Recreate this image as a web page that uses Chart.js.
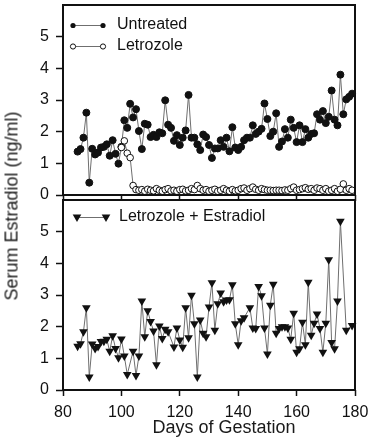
<!DOCTYPE html>
<html>
<head>
<meta charset="utf-8">
<script src="https://cdn.jsdelivr.net/npm/chart.js@4.4.0/dist/chart.umd.min.js"></script>
<style>
  body { margin: 0; background: #fff; }
  #wrap { position: relative; width: 368px; height: 440px; font-family: "Liberation Sans", Arial, Helvetica, sans-serif; color: #1a1a1a; }
  canvas { position: absolute; left: 0; }
  #topChart { top: 0; z-index: 2; }
  #bottomChart { top: 195px; z-index: 1; }
  .ytitle { position: absolute; left: 12px; top: 206px; transform: translate(-50%, -50%) rotate(-90deg); font-size: 18px; white-space: nowrap; z-index: 3; }
  .xtitle { position: absolute; left: 224px; top: 427px; transform: translate(-50%, -50%); font-size: 18px; white-space: nowrap; z-index: 3; }
</style>
</head>
<body>
<div id="wrap">
  <canvas id="bottomChart" width="368" height="245"></canvas>
  <canvas id="topChart" width="368" height="210"></canvas>
  <div class="ytitle">Serum Estradiol (ng/ml)</div>
  <div class="xtitle">Days of Gestation</div>
</div>
<script>
// days of gestation and serum estradiol (ng/ml)
const untreatedDays = [
  85, 86, 87, 88, 89, 90, 91, 92, 93, 94,
  95, 96, 97, 98, 99, 100, 101, 102, 103, 104,
  105, 106, 107, 108, 109, 110, 111, 112, 113, 114,
  115, 116, 117, 118, 119, 120, 121, 122, 123, 124,
  125, 126, 127, 128, 129, 130, 131, 132, 133, 134,
  135, 136, 137, 138, 139, 140, 141, 142, 143, 144,
  145, 146, 147, 148, 149, 150, 151, 152, 153, 154,
  155, 156, 157, 158, 159, 160, 161, 162, 163, 164,
  165, 166, 167, 168, 169, 170, 171, 172, 173, 174,
  175, 176, 177, 178, 179
];
const untreatedValues = [
  1.37, 1.45, 1.81, 2.6, 0.39, 1.46, 1.28, 1.34, 1.5, 1.52,
  1.6, 1.24, 1.73, 1.3, 0.99, 1.52, 2.36, 2.12, 2.88, 2.45,
  2.71, 2.02, 1.45, 2.25, 2.22, 1.83, 1.9, 1.83, 1.98, 1.95,
  2.99, 2.22, 2.12, 1.71, 1.89, 1.58, 1.81, 2.04, 3.16, 1.81,
  1.81, 1.6, 1.42, 1.91, 1.83, 1.58, 1.17, 1.47, 1.47, 1.73,
  1.52, 1.81, 1.38, 2.14, 1.5, 1.42, 1.52, 1.73, 1.81, 1.81,
  2.2, 1.93, 2.0, 2.09, 2.89, 2.4, 1.86, 2.0, 2.58, 1.52,
  1.69, 2.08, 1.81, 2.38, 2.12, 1.67, 2.2, 1.67, 2.08, 1.81,
  1.93, 1.95, 2.55, 2.38, 2.65, 2.27, 2.47, 3.3, 2.38, 2.2,
  3.8, 2.55, 3.02, 3.1, 3.2
];

const letrozoleDays = [
  100, 101, 102, 103, 104, 105, 106, 107, 108, 109,
  110, 111, 112, 113, 114, 115, 116, 117, 118, 119,
  120, 121, 122, 123, 124, 125, 126, 127, 128, 129,
  130, 131, 132, 133, 134, 135, 136, 137, 138, 139,
  140, 141, 142, 143, 144, 145, 146, 147, 148, 149,
  150, 151, 152, 153, 154, 155, 156, 157, 158, 159,
  160, 161, 162, 163, 164, 165, 166, 167, 168, 169,
  170, 171, 172, 173, 174, 175, 176, 177, 178, 179
];
const letrozoleValues = [
  1.5, 1.71, 1.32, 1.18, 0.3, 0.17, 0.15, 0.17, 0.12, 0.18,
  0.15, 0.13, 0.2, 0.15, 0.12, 0.17, 0.2, 0.13, 0.15, 0.12,
  0.17, 0.18, 0.13, 0.15, 0.2, 0.17, 0.3, 0.2, 0.15, 0.17,
  0.12, 0.15, 0.18, 0.12, 0.15, 0.2, 0.15, 0.12, 0.17, 0.13,
  0.15, 0.2, 0.22, 0.15, 0.2, 0.25, 0.18, 0.15, 0.2, 0.17,
  0.15, 0.15, 0.14, 0.15, 0.15, 0.14, 0.16, 0.15, 0.2, 0.25,
  0.15, 0.17, 0.2, 0.23, 0.18, 0.2, 0.15, 0.22, 0.2, 0.15,
  0.2, 0.12, 0.15, 0.2, 0.12, 0.18, 0.35, 0.15, 0.2, 0.15
];

const comboDays = [
  85, 86, 87, 88, 89, 90, 91, 92, 93, 94,
  95, 96, 97, 98, 99, 100, 101, 102, 104, 105,
  106, 107, 108, 109, 110, 111, 112, 113, 114, 115,
  116, 118, 119, 120, 121, 122, 123, 124, 125, 126,
  127, 128, 129, 130, 131, 132, 133, 134, 135, 136,
  137, 138, 139, 140, 141, 142, 144, 145, 146, 147,
  148, 149, 150, 151, 152, 153, 154, 155, 156, 157,
  158, 159, 160, 161, 162, 163, 164, 165, 166, 167,
  168, 169, 170, 171, 172, 173, 174, 175, 177, 179
];
const comboValues = [
  1.38, 1.46, 1.84, 2.6, 0.41, 1.45, 1.31, 1.37, 1.53, 1.54,
  1.6, 1.22, 1.71, 1.31, 1.02, 1.61, 1.07, 0.49, 1.22, 0.46,
  1.07, 2.81, 1.68, 2.5, 2.16, 1.86, 0.8, 2.02, 1.63, 1.92,
  1.84, 1.36, 1.96, 1.58, 1.35, 2.6, 1.65, 2.99, 2.09, 0.41,
  2.21, 1.79, 1.68, 2.62, 3.39, 1.89, 2.72, 3.06, 2.79, 2.84,
  2.85, 3.32, 2.09, 1.43, 2.19, 2.28, 2.6, 1.96, 1.94, 3.27,
  2.98, 1.96, 1.14, 2.68, 3.34, 1.79, 1.94, 2.0, 2.0, 1.96,
  1.6, 2.42, 1.19, 1.3, 2.14, 1.43, 3.4, 1.73, 2.11, 2.4,
  1.94, 1.19, 2.11, 4.11, 1.5, 1.3, 2.81, 5.33, 1.89, 2.04
];

const xTicks = [80, 100, 120, 140, 160, 180];
const yTicks = [0, 1, 2, 3, 4, 5];

const ink = '#111';
const lineGray = '#6f6f6f';
const fontFamily = '"Liberation Sans", Arial, Helvetica, sans-serif';

Chart.defaults.font.family = fontFamily;
Chart.defaults.color = ink;

function toPoints(days, values) {
  return days.map((d, i) => ({ x: d, y: values[i] }));
}

// little "marker - line - marker" picture used as legend symbol
function legendIcon(width, x1, x2, marker) {
  const c = document.createElement('canvas');
  c.width = width;
  c.height = 14;
  const g = c.getContext('2d');
  const cy = 7;
  g.strokeStyle = lineGray;
  g.lineWidth = 1;
  g.beginPath();
  g.moveTo(x1, cy + 0.5);
  g.lineTo(x2, cy + 0.5);
  g.stroke();
  [x1, x2].forEach(x => marker(g, x, cy));
  return c;
}

function filledDot(g, x, y) {
  g.fillStyle = ink;
  g.beginPath();
  g.arc(x, y + 0.5, 2.6, 0, Math.PI * 2);
  g.fill();
}

function openDot(g, x, y) {
  g.fillStyle = '#fff';
  g.strokeStyle = ink;
  g.lineWidth = 1;
  g.beginPath();
  g.arc(x, y + 0.5, 2.6, 0, Math.PI * 2);
  g.fill();
  g.stroke();
}

function downTriangle(g, x, y) {
  const r = 5;
  g.fillStyle = ink;
  g.beginPath();
  g.moveTo(x - r * 0.866, y - r / 2);
  g.lineTo(x + r * 0.866, y - r / 2);
  g.lineTo(x, y + r);
  g.closePath();
  g.fill();
}

const frame = {
  id: 'frame',
  afterDraw(chart) {
    const { ctx, chartArea: a } = chart;
    ctx.save();
    ctx.strokeStyle = ink;
    ctx.lineWidth = 2;
    ctx.strokeRect(a.left, a.top, a.right - a.left, a.bottom - a.top);
    ctx.restore();
  }
};

function xScale(showLabels) {
  return {
    type: 'linear',
    min: 80,
    max: 180,
    afterBuildTicks(s) { s.ticks = xTicks.map(v => ({ value: v })); },
    ticks: { display: showLabels, padding: 7, color: ink, font: { size: 16 } },
    grid: { drawOnChartArea: false, tickLength: 6, tickColor: ink, tickWidth: 1.5 },
    border: { display: false },
    afterFit(s) {
      s.height = showLabels ? 50 : 15;
      s.paddingLeft = 0;
      s.paddingRight = 0;
    }
  };
}

function yScale() {
  return {
    type: 'linear',
    min: 0,
    max: 6,
    afterBuildTicks(s) { s.ticks = yTicks.map(v => ({ value: v })); },
    ticks: { padding: 7, color: ink, font: { size: 16 } },
    grid: { drawOnChartArea: false, tickLength: 7, tickColor: ink, tickWidth: 1.5 },
    border: { display: false },
    afterFit(s) {
      s.width = 63;
      s.paddingTop = 0;
      s.paddingBottom = 0;
    }
  };
}

function legendOpts(icons, boxW, titleGap) {
  return {
    position: 'chartArea',
    align: 'start',
    title: { display: true, text: '', font: { size: 1, lineHeight: 1 }, padding: { top: 0, bottom: titleGap } },
    labels: {
      usePointStyle: true,
      pointStyleWidth: boxW,
      padding: 5,
      color: ink,
      font: { size: 16 },
      generateLabels(chart) {
        return chart.data.datasets.map((ds, i) => ({
          text: ds.label,
          pointStyle: icons[i],
          datasetIndex: i,
          fontColor: ink,
          lineWidth: 0,
          hidden: false
        }));
      }
    }
  };
}

new Chart(document.getElementById('topChart'), {
  type: 'line',
  data: {
    datasets: [
      {
        label: 'Untreated',
        data: toPoints(untreatedDays, untreatedValues),
        borderColor: lineGray,
        borderWidth: 1,
        pointStyle: 'circle',
        pointRadius: 3.5,
        pointBackgroundColor: ink,
        pointBorderColor: ink,
        pointBorderWidth: 1,
        clip: false,
        order: 2
      },
      {
        label: 'Letrozole',
        data: toPoints(letrozoleDays, letrozoleValues),
        borderColor: lineGray,
        borderWidth: 1,
        pointStyle: 'circle',
        pointRadius: 3.3,
        pointBackgroundColor: '#fff',
        pointBorderColor: ink,
        pointBorderWidth: 1,
        clip: false,
        order: 1
      }
    ]
  },
  options: {
    responsive: false,
    animation: false,
    devicePixelRatio: 1,
    layout: { padding: { left: 0, right: 13, top: 1, bottom: 0 } },
    scales: { x: xScale(false), y: yScale() },
    plugins: {
      legend: legendOpts([
        legendIcon(41, 5, 35, filledDot),
        legendIcon(41, 5, 35, openDot)
      ], 41, 11),
      tooltip: { enabled: false }
    }
  },
  plugins: [frame]
});

new Chart(document.getElementById('bottomChart'), {
  type: 'line',
  data: {
    datasets: [
      {
        label: 'Letrozole + Estradiol',
        data: toPoints(comboDays, comboValues),
        borderColor: lineGray,
        borderWidth: 1,
        pointStyle: 'triangle',
        rotation: 180,
        pointRadius: 5,
        pointBackgroundColor: ink,
        pointBorderColor: ink,
        pointBorderWidth: 0,
        clip: false
      }
    ]
  },
  options: {
    responsive: false,
    animation: false,
    devicePixelRatio: 1,
    layout: { padding: { left: 0, right: 13, top: 0, bottom: 0 } },
    scales: { x: xScale(true), y: yScale() },
    plugins: {
      legend: legendOpts([legendIcon(43, 9, 38, downTriangle)], 43, 8),
      tooltip: { enabled: false }
    }
  },
  plugins: [frame]
});
</script>
</body>
</html>
